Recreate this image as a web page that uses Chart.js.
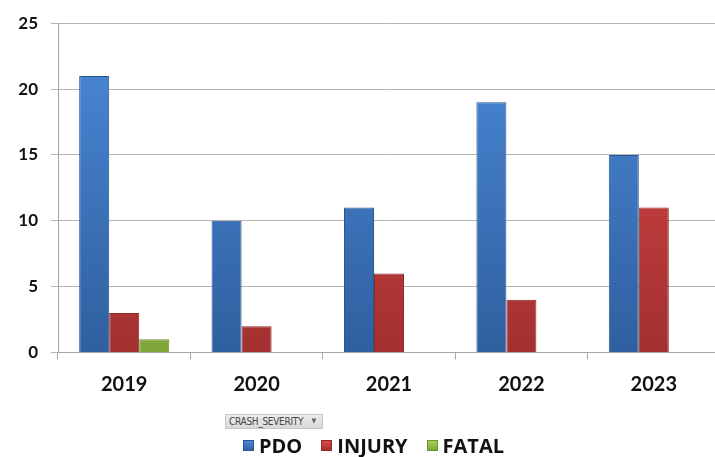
<!DOCTYPE html>
<html>
<head>
<meta charset="utf-8">
<script src="https://cdn.jsdelivr.net/npm/chart.js@4/dist/chart.umd.min.js"></script>
<style>
  html, body { margin: 0; padding: 0; background: #ffffff; overflow: hidden; }
  #wrap { position: relative; width: 730px; height: 457px; }
  #filterBtn {
    position: absolute; left: 225px; top: 414px; width: 98px; height: 15px;
    background: linear-gradient(#ececec, #d9d9d9); border: 1px solid #c8c8c8; box-sizing: border-box;
    font: 10px "DejaVu Sans Condensed", "Liberation Sans Narrow", sans-serif; color: #444;
    line-height: 13px; padding-left: 3px; white-space: nowrap; letter-spacing: -0.3px;
  }
  #filterBtn span { position: absolute; right: 6px; top: 0; font-size: 7px; color: #666; }
  #legend {
    position: absolute; left: 243px; top: 434px; height: 22px; display: flex; align-items: center;
    font: bold 20px "Open Sans", Lato, sans-serif; color: #111;
  }
  .item { display: flex; align-items: center; margin-right: 19px; }
  .box { width: 11px; height: 11px; margin-right: 5px; box-sizing: border-box; }
</style>
</head>
<body>
<div id="wrap">
  <canvas id="c" width="730" height="457"></canvas>
  <div id="filterBtn">CRASH_SEVERITY<span>&#9660;</span></div>
  <div id="legend"></div>
</div>
<script>
// Crash counts by year and severity
const years = ['2019', '2020', '2021', '2022', '2023'];
const pdo = [21, 10, 11, 19, 15];
const injury = [3, 2, 6, 4, 11];
const fatal = [1, null, null, null, null];
const yTicks = [0, 5, 10, 15, 20, 25];

const palette = {
  PDO:    { top: '#4b8ad9', bottom: '#2f5f9f', edge: '#2a5590' },
  INJURY: { top: '#dc4848', bottom: '#a33030', edge: '#8f2a2a' },
  FATAL:  { top: '#a9d254', bottom: '#7ea537', edge: '#6e9230' }
};

function barFill(name) {
  return function (ctx) {
    const chart = ctx.chart;
    const area = chart.chartArea;
    if (!area) return palette[name].top;
    const g = chart.ctx.createLinearGradient(0, area.top, 0, area.bottom);
    g.addColorStop(0, palette[name].top);
    g.addColorStop(1, palette[name].bottom);
    return g;
  };
}

function makeSet(name, values) {
  return {
    label: name,
    data: values,
    backgroundColor: barFill(name),
    borderColor: palette[name].edge,
    borderWidth: 1,
    categoryPercentage: 0.68,
    barPercentage: 1.0
  };
}

// Builds the legend row from the chart's datasets
const htmlLegend = {
  id: 'htmlLegend',
  afterUpdate(chart) {
    const el = document.getElementById('legend');
    el.innerHTML = '';
    chart.data.datasets.forEach(ds => {
      const item = document.createElement('div');
      item.className = 'item';
      const box = document.createElement('div');
      box.className = 'box';
      const p = palette[ds.label];
      box.style.background = 'linear-gradient(' + p.top + ',' + p.bottom + ')';
      box.style.border = '1px solid ' + p.edge;
      const txt = document.createElement('span');
      txt.textContent = ds.label;
      item.appendChild(box);
      item.appendChild(txt);
      el.appendChild(item);
    });
  }
};

new Chart(document.getElementById('c'), {
  type: 'bar',
  data: {
    labels: years,
    datasets: [makeSet('PDO', pdo), makeSet('INJURY', injury), makeSet('FATAL', fatal)]
  },
  plugins: [htmlLegend],
  options: {
    responsive: false,
    animation: false,
    layout: { padding: { top: 20, right: 10, bottom: 45, left: 0 } },
    plugins: {
      legend: { display: false },
      tooltip: { enabled: false }
    },
    scales: {
      x: {
        grid: {
          offset: true, drawOnChartArea: false, drawTicks: true, tickLength: 7,
          color: '#a6a6a6'
        },
        border: { color: '#a6a6a6', width: 1 },
        ticks: {
          padding: 13, color: '#111',
          font: { family: 'Lato, "Open Sans", sans-serif', size: 20, weight: 'bold' }
        },
        afterFit(scale) { scale.height = 59.5; }
      },
      y: {
        min: 0, max: 25,
        afterBuildTicks(scale) { scale.ticks = yTicks.map(v => ({ value: v })); },
        grid: { color: '#b5b5b5', lineWidth: 1, drawTicks: true, tickLength: 7 },
        border: { color: '#a6a6a6', width: 1 },
        ticks: {
          padding: 13, color: '#111',
          font: { family: 'Lato, "Open Sans", sans-serif', size: 17, weight: 'bold' }
        },
        afterFit(scale) { scale.width = 58; }
      }
    }
  }
});
</script>
</body>
</html>
